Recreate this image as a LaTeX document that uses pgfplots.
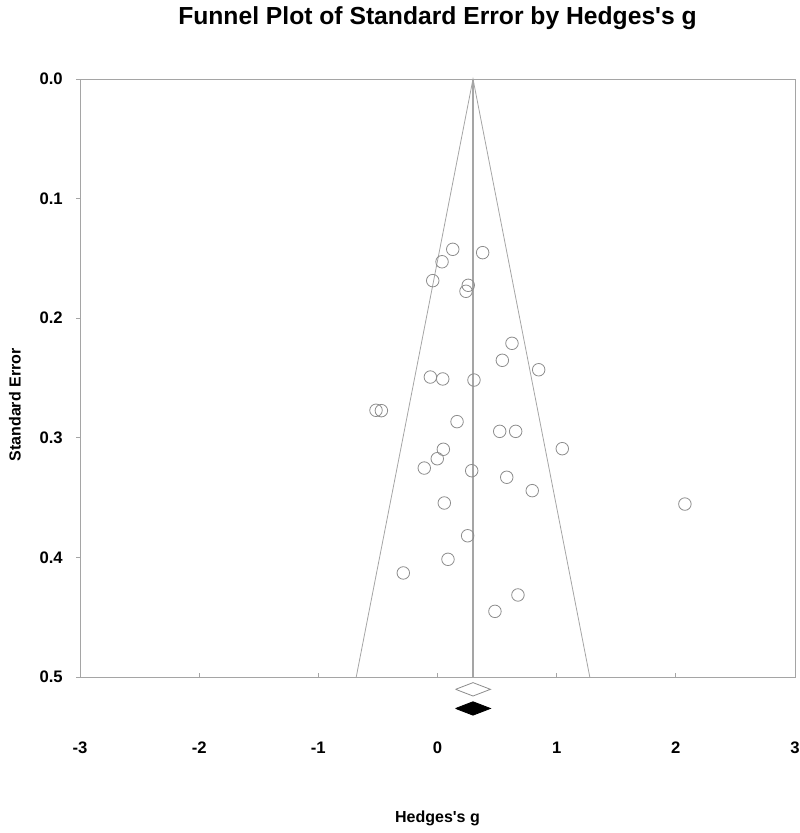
\documentclass[border=0pt]{standalone}
\usepackage{pgfplots}
\pgfplotsset{compat=1.18}
\usepackage{fontspec}
\setmainfont{Liberation Sans}
\definecolor{linegray}{RGB}{165,165,165}
\definecolor{circgray}{RGB}{140,140,140}
\begin{document}
\begin{tikzpicture}
\begin{axis}[
  name=ax,
  scale only axis,
  width=536.25pt, height=448.5pt,
  xmin=-3, xmax=3, ymin=0, ymax=0.5,
  y dir=reverse,
  clip=false,
  axis line style={linegray, line width=0.6pt},
  xtick={-3,-2,-1,0,1,2,3},
  xticklabels={-3,-2,-1,0,1,2,3},
  ytick={0,0.1,0.2,0.3,0.4,0.5},
  yticklabels={0.0,0.1,0.2,0.3,0.4,0.5},
  xtick pos=bottom, ytick pos=left,
  xtick align=inside, ytick align=outside,
  major tick length=3pt,
  tick style={linegray, line width=0.6pt},
  ticklabel style={font=\bfseries\fontsize{12.5}{14}\selectfont},
  xticklabel style={anchor=base, inner sep=0pt, yshift=-57pt},
  yticklabel style={anchor=east, inner sep=0pt, xshift=-9.75pt},
  title={Funnel Plot of Standard Error by Hedges\textquotesingle s g},
  title style={at={(axis description cs:0.5,1.0786)}, anchor=base, inner sep=0pt, font=\bfseries\fontsize{18.5}{20}\selectfont},
  xlabel={Hedges\textquotesingle s g},
  xlabel style={at={(axis description cs:0.5,-0.2425)}, anchor=base, inner sep=0pt, font=\bfseries\fontsize{12}{14}\selectfont},
  ylabel={Standard Error},
  ylabel style={at={(axis description cs:-0.0909,0.455)}, anchor=center, inner sep=0pt, font=\bfseries\fontsize{12}{14}\selectfont},
]
% funnel
\addplot[linegray, line width=0.6pt] coordinates {(-0.682,0.5) (0.298,0) (1.278,0.5)};
\addplot[linegray, line width=0.8pt] coordinates {(0.298,0) (0.298,0.5)};
% studies
\addplot[only marks, mark=o, mark size=4.7pt, mark options={circgray, line width=0.6pt}] coordinates {
(0.128,0.1424) (0.379,0.1452) (0.038,0.1528) (-0.040,0.1686) (0.258,0.1725)
(0.239,0.1775) (0.625,0.2210) (0.544,0.2352) (0.849,0.2431) (-0.060,0.2492)
(0.044,0.2508) (0.306,0.2517) (-0.516,0.2770) (-0.471,0.2773) (0.164,0.2865)
(0.522,0.2946) (0.656,0.2946) (1.047,0.3091) (0.049,0.3096) (-0.002,0.3175)
(-0.111,0.3253) (0.287,0.3275) (0.581,0.3330) (0.795,0.3442) (0.057,0.3545)
(2.076,0.3554) (0.253,0.3819) (0.088,0.4016) (-0.287,0.4130) (0.675,0.4314)
(0.482,0.4451)
};
% summary diamonds
\addplot[circgray, line width=0.6pt, fill=white] coordinates {(0.152,0.5103) (0.298,0.5047) (0.444,0.5103) (0.298,0.5159) (0.152,0.5103)};
\addplot[black, line width=0.6pt, fill=black] coordinates {(0.152,0.5263) (0.298,0.5207) (0.444,0.5263) (0.298,0.5319) (0.152,0.5263)};
\end{axis}
\path ([shift={(-60pt,-117pt)}]ax.south west) rectangle ([shift={(3.75pt,59.25pt)}]ax.north east);
\end{tikzpicture}
\end{document}
